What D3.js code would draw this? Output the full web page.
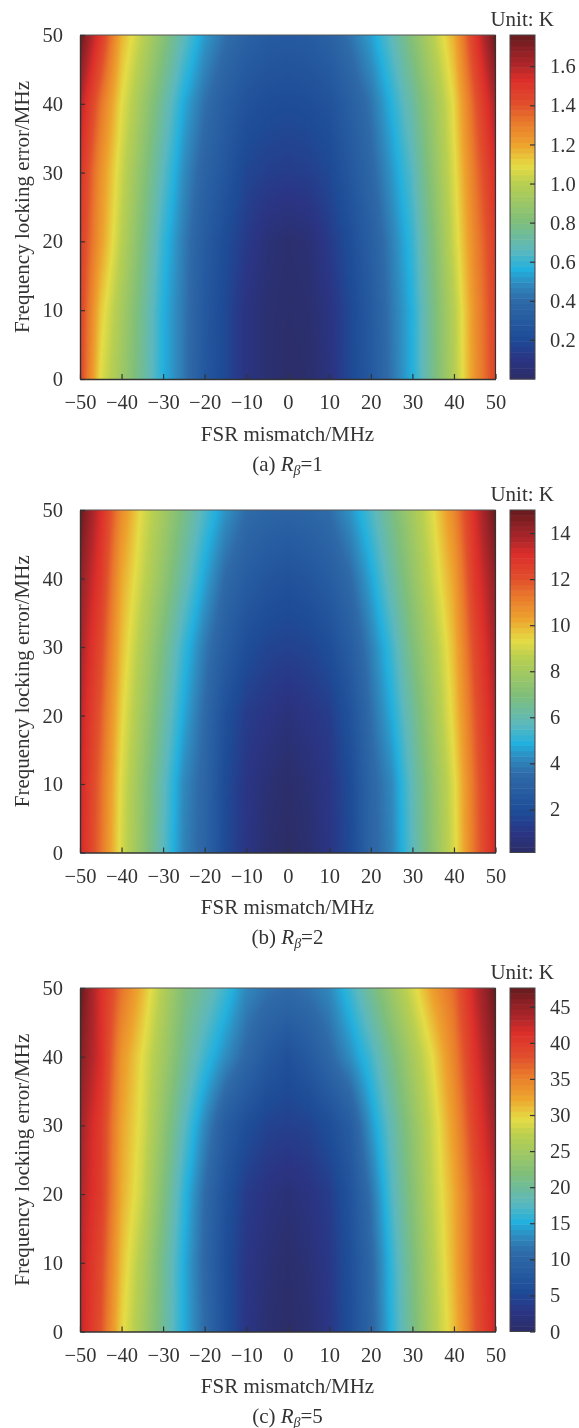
<!DOCTYPE html>
<html><head><meta charset="utf-8">
<script src="https://cdn.jsdelivr.net/npm/d3@7/dist/d3.min.js"></script>
<style>html,body{margin:0;padding:0;background:#fff}#wrap{position:relative;width:579px;height:1428px;overflow:hidden}canvas,svg{position:absolute;left:0;top:0}text{font-family:"Liberation Serif",serif;fill:#333}</style>
</head><body><div id="wrap"><canvas id="c" width="579" height="1428"></canvas><svg id="s" width="579" height="1428"></svg></div>
<script>
// Column and row positions of the value tables (MHz)
const fsrMismatch = [-50,-45,-40,-35,-30,-25,-20,-15,-10,-5,0,5,10,15,20,25,30,35,40,45,50];
const lockError = [0,10,20,30,40,50];
// Temperature tables, one row per lockError value (K)
const tempA = [
 [1.45,1.08,.91,.74,.566,.44,.28,.19,.09,.04,.01,.02,.08,.19,.29,.43,.565,.77,.98,1.24,1.45],
 [1.46,1.13,.94,.755,.567,.44,.29,.19,.09,.04,.02,.03,.09,.19,.30,.44,.567,.78,.99,1.25,1.46],
 [1.48,1.22,1.0,.80,.60,.45,.31,.21,.13,.06,.03,.05,.13,.22,.33,.46,.60,.81,1.04,1.28,1.48],
 [1.52,1.25,1.04,.85,.66,.49,.36,.27,.18,.15,.14,.15,.19,.28,.38,.51,.65,.86,1.07,1.32,1.54],
 [1.60,1.33,1.09,.91,.73,.55,.42,.32,.25,.22,.21,.22,.25,.33,.43,.57,.72,.90,1.10,1.38,1.62],
 [1.76,1.49,1.17,1.01,.84,.67,.52,.42,.35,.31,.30,.31,.35,.43,.53,.67,.83,1.00,1.18,1.49,1.76]
];
const tempB = [
 [13.3,11.4,9.08,7.4,5.7,4.1,3.25,1.8,1.0,.4,.13,.4,1.0,1.8,3.25,4.1,5.7,7.4,9.1,11.4,13.3],
 [13.4,11.5,9.2,7.5,5.85,4.2,3.3,1.85,1.05,.55,.25,.55,1.05,1.85,3.3,4.2,5.85,7.5,9.2,11.5,13.4],
 [13.6,11.8,9.5,7.9,6.3,4.75,3.5,2.1,1.3,1.0,.7,1.0,1.3,2.2,3.6,4.8,6.3,7.9,9.6,11.8,13.6],
 [13.9,12.2,9.85,8.3,6.8,5.2,3.9,2.8,2.0,1.6,1.5,1.6,2.0,2.8,4.0,5.3,6.9,8.3,9.9,12.2,13.9],
 [14.3,12.7,10.2,8.85,7.5,6.1,4.7,3.5,2.8,2.4,2.2,2.4,2.8,3.5,4.7,6.1,7.5,8.9,10.3,12.7,14.3],
 [15,13.1,10.8,9.2,8,6.75,5.5,4.4,3.6,3.3,3.2,3.3,3.6,4.4,5.5,6.75,8,9.3,10.9,13.1,15]
];
const tempC = [
 [42.8,38,30,25.2,20.2,15.1,11,6.3,2.8,1,.2,1,3,6,10,15.5,20.9,26.3,31,37.5,42.5],
 [43,38.7,31,26.2,20.5,15.1,10.5,6,3,1.5,.5,1.5,3.2,6.2,10.3,16,21.4,26.8,31.7,38,43],
 [43.5,39.8,32,28,22,16,11,6.7,3.7,2.4,1.5,2.4,3.8,6.8,11.5,17.3,22.4,27.6,32,38,43],
 [44.3,40,32.5,28.8,23.5,18,13,8.5,6,4.5,4.2,4.5,6,8.5,13.8,18.6,23.4,28.2,33.2,39.5,44.5],
 [46,41.5,33.5,29.4,25,20.5,16.5,13.3,10.5,8,6.4,8,10.5,13.3,16.7,21,25.4,29.7,34.8,41,46],
 [47.6,41.4,36,31.5,26.5,22,19.5,16.5,13,11.6,11,11.6,13,16.5,20.5,24.5,28.6,33,36.5,42.5,47.6]
];
const tempDomainA = [0,1.76], tempDomainB = [0.13,15], tempDomainC = [0,47.6];
const xTicks = [-50,-40,-30,-20,-10,0,10,20,30,40,50];
const yTicks = [0,10,20,30,40,50];
const barTicksA = [0.2,0.4,0.6,0.8,1.0,1.2,1.4,1.6];
const barTicksB = [2,4,6,8,10,12,14];
const barTicksC = [0,5,10,15,20,25,30,35,40,45];
const captionTags = ["(a) ","(b) ","(c) "];
const captionValues = ["=1","=2","=5"];
// Colormap
const cmapPos = [0,.06,.116,.17,.23,.28,.32,.375,.46,.57,.62,.683,.75,.797,.87,.91,.96,1];
const cmapCol = ["#2b2d66","#2a3585","#1e4b96","#255aa0","#2f6aa8","#2f8dc0","#22b0de","#5cb8bd","#80bf7a","#b9cf50","#e5dc45","#eda22d","#e9782c","#e1502c","#dc2e2a","#b2272a","#8a2025","#651b1d"];

const frac2col = d3.scaleLinear().domain(cmapPos).range(cmapCol).interpolate(d3.interpolateRgb);
const xS = d3.scaleLinear().domain([-50,50]).range([80,495.5]);
const panels = [
 {data:tempA,dom:tempDomainA,top:35,bot:379,ticks:barTicksA,fmt:d3.format(".1f")},
 {data:tempB,dom:tempDomainB,top:510,bot:852.5,ticks:barTicksB,fmt:d3.format("d")},
 {data:tempC,dom:tempDomainC,top:988,bot:1331.5,ticks:barTicksC,fmt:d3.format("d")}
];
const ctx = document.getElementById("c").getContext("2d");
const svg = d3.select("#s");
const ink = "#333";
const tickFont = 20.5, labelFont = 21;
panels.forEach((p,k)=>{
  const yS = d3.scaleLinear().domain([0,50]).range([p.bot,p.top]);
  const cS = d3.scaleLinear().domain(p.dom).range([0,1]).clamp(true);
  const col = d3.scaleLinear().domain(fsrMismatch).range(d3.range(fsrMismatch.length));
  const row = d3.scaleLinear().domain(lockError).range(d3.range(lockError.length));
  // shaded heat map: each pixel takes the value shaded across the table cell it sits in
  const [x0,x1] = xS.range();
  for(let px=Math.floor(x0);px<Math.ceil(x1);px++){
    for(let py=Math.floor(p.top);py<Math.ceil(p.bot);py++){
      const fx=col(Math.max(-50,Math.min(50,xS.invert(px+.5))));
      const fy=row(Math.max(0,Math.min(50,yS.invert(py+.5))));
      const i=Math.min(19,Math.floor(fx)),j=Math.min(4,Math.floor(fy));
      const u=fx-i,v=fy-j;
      const val=(p.data[j][i]*(1-u)+p.data[j][i+1]*u)*(1-v)+(p.data[j+1][i]*(1-u)+p.data[j+1][i+1]*u)*v;
      ctx.fillStyle=frac2col(cS(val));
      ctx.fillRect(px,py,1,1);
    }
  }
  const g=svg.append("g");
  // frame
  g.append("line").attr("x1",x0).attr("x2",x1).attr("y1",p.top).attr("y2",p.top).attr("stroke","#555").attr("stroke-width",1);
  g.append("line").attr("x1",x1).attr("x2",x1).attr("y1",p.top).attr("y2",p.bot).attr("stroke","#333").attr("stroke-width",1.2);
  // axes
  const ax=g.append("g").attr("transform",`translate(0,${p.bot})`).call(d3.axisBottom(xS).tickValues(xTicks).tickSizeInner(-5).tickSizeOuter(0).tickPadding(15.5).tickFormat(d=>d<0?"\u2212"+(-d):d));
  const ay=g.append("g").attr("transform",`translate(${x0},0)`).call(d3.axisLeft(yS).tickValues(yTicks).tickSizeInner(-5).tickSizeOuter(0).tickPadding(17));
  [ax,ay].forEach(a=>{a.selectAll("path").attr("stroke",ink).attr("stroke-width",1.4);a.selectAll("line").attr("stroke",ink).attr("stroke-width",1.2);a.selectAll("text").attr("font-size",tickFont).attr("font-family",'"Liberation Serif",serif').attr("fill",ink);});
  // axis titles
  g.append("text").attr("x",287.5).attr("y",p.bot+61.5).attr("text-anchor","middle").attr("font-size",labelFont).text("FSR mismatch/MHz");
  g.append("text").attr("transform",`translate(28.5,${(p.top+p.bot)/2}) rotate(-90)`).attr("text-anchor","middle").attr("font-size",labelFont).text("Frequency locking error/MHz");
  const cap=g.append("text").attr("x",287.5).attr("y",p.bot+91.5).attr("text-anchor","middle").attr("font-size",labelFont);
  cap.append("tspan").text(captionTags[k]);
  cap.append("tspan").attr("font-style","italic").text("R");
  cap.append("tspan").attr("font-style","italic").attr("font-size",14).attr("dy",4).text("\u03B2");
  cap.append("tspan").attr("dy",-4).text(captionValues[k]);
  // colorbar
  const barS=d3.scaleLinear().domain(p.dom).range([p.bot,p.top]);
  const levels=d3.range(64);
  const band=d3.scaleBand().domain(levels).range([p.bot,p.top]);
  g.append("g").selectAll("rect").data(levels).join("rect")
    .attr("x",510).attr("width",25).attr("y",d=>band(d)).attr("height",band.bandwidth()+.5)
    .attr("fill",d=>frac2col((d+.5)/64));
  g.append("rect").attr("x",510).attr("y",p.top).attr("width",25).attr("height",p.bot-p.top).attr("fill","none").attr("stroke","#444").attr("stroke-width",1);
  const ab=g.append("g").attr("transform","translate(535,0)").call(d3.axisRight(barS).tickValues(p.ticks).tickSizeInner(-5).tickSizeOuter(0).tickPadding(15).tickFormat(p.fmt));
  ab.selectAll("path").attr("stroke","none");
  ab.selectAll("line").attr("stroke",ink).attr("stroke-width",1.2);
  ab.selectAll("text").attr("font-size",tickFont).attr("font-family",'"Liberation Serif",serif').attr("fill",ink);
  g.append("text").attr("x",554).attr("y",p.top-9).attr("text-anchor","end").attr("font-size",labelFont).text("Unit: K");
});
</script></body></html>
